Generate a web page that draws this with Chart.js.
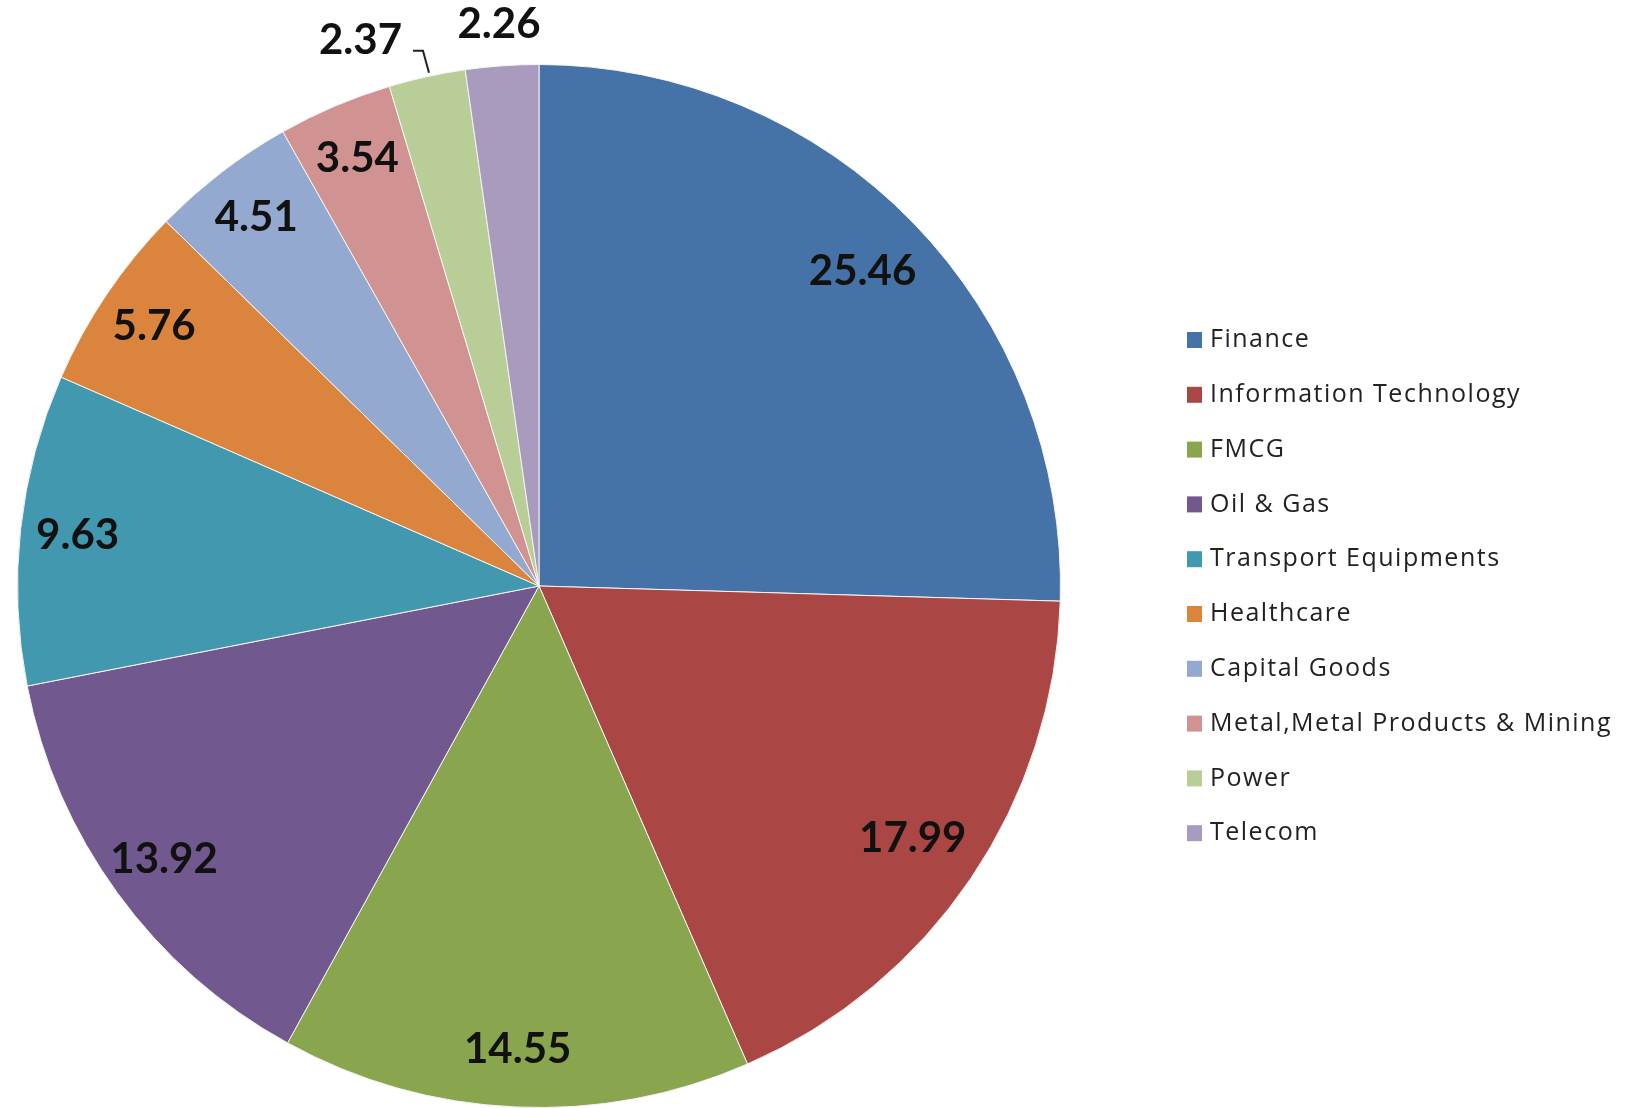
<!DOCTYPE html>
<html lang="en">

<head>
    <meta charset="UTF-8">
    <title>Sector allocation</title>
    <script src="https://cdn.jsdelivr.net/npm/chart.js"></script>
    <style>
        html, body { margin: 0; padding: 0; background: #fff; }
        #box { width: 1643px; height: 1108px; }
    </style>
</head>

<body>
    <div id="box">
        <canvas id="setorChart"></canvas>
    </div>
</body>

</html>
<script>
    // dados do gráfico
    const setores = ['Finance', 'Information Technology', 'FMCG', 'Oil & Gas', 'Transport Equipments',
        'Healthcare', 'Capital Goods', 'Metal,Metal Products & Mining', 'Power', 'Telecom'];
    const pesos = [25.46, 17.99, 14.55, 13.92, 9.63, 5.76, 4.51, 3.54, 2.37, 2.26];
    const cores = ['#4572A7', '#AA4643', '#89A54E', '#71588F', '#4198AF',
        '#DB843D', '#93A9CF', '#D19392', '#B9CD96', '#A99BBD'];

    const fonteTexto = 'Lato, "Open Sans", sans-serif';

    // rótulos dos valores em cima das fatias
    const rotulosPlugin = {
        id: 'rotulos',
        afterDatasetsDraw(chart) {
            const ctx = chart.ctx;
            const arcos = chart.getDatasetMeta(0).data;
            ctx.save();
            ctx.font = 'bold 42px ' + fonteTexto;
            ctx.fillStyle = '#111';
            ctx.textAlign = 'center';
            ctx.textBaseline = 'middle';
            arcos.forEach(function (arco, i) {
                const p = arco.getProps(['x', 'y', 'startAngle', 'endAngle', 'outerRadius'], true);
                let meio = (p.startAngle + p.endAngle) / 2;
                // fatias grandes ficam um pouco mais pra dentro
                let r = p.outerRadius * (pesos[i] > 15 ? 0.865 : 0.89);
                if (pesos[i] < 3) {
                    // fatias pequenas: rótulo fora
                    r = p.outerRadius * 1.08;
                    if (i == 8) {
                        meio = meio - 0.1;
                        r = p.outerRadius * 1.1;
                        // linha de chamada
                        const m2 = (p.startAngle + p.endAngle) / 2;
                        const ax = p.x + Math.cos(m2) * p.outerRadius;
                        const ay = p.y + Math.sin(m2) * p.outerRadius;
                        ctx.strokeStyle = '#222';
                        ctx.lineWidth = 2;
                        ctx.beginPath();
                        ctx.moveTo(ax + 2, ay - 4);
                        ctx.lineTo(ax - 4, ay - 26);
                        ctx.lineTo(ax - 14, ay - 26);
                        ctx.stroke();
                    }
                }
                const x = p.x + Math.cos(meio) * r;
                const y = p.y + Math.sin(meio) * r;
                ctx.fillText(pesos[i].toFixed(2), x, y);
            });
            ctx.restore();
        }
    };

    // legenda desenhada à direita
    const legendaPlugin = {
        id: 'legendaDireita',
        afterDraw(chart) {
            const ctx = chart.ctx;
            const dados = chart.data;
            ctx.save();
            ctx.font = '25px "Open Sans", sans-serif';
            ctx.letterSpacing = '1.5px';
            ctx.textBaseline = 'middle';
            ctx.textAlign = 'left';
            for (let i = 0; i < dados.labels.length; i++) {
                const y = 340 + i * 54.8;
                ctx.fillStyle = dados.datasets[0].backgroundColor[i];
                ctx.fillRect(1187, y - 8, 15, 16);
                ctx.fillStyle = '#222';
                ctx.fillText(dados.labels[i], 1210, y);
            }
            ctx.restore();
        }
    };

    const config = {
        type: 'pie',
        data: {
            labels: setores,
            datasets: [{
                data: pesos,
                backgroundColor: cores,
                borderColor: '#f4f4f4',
                borderWidth: 1
            }]
        },
        options: {
            responsive: true,
            maintainAspectRatio: false,
            animation: false,
            layout: {
                padding: { top: 64, bottom: 0, left: 17, right: 582 }
            },
            plugins: {
                legend: { display: false },
                tooltip: { enabled: false }
            }
        },
        plugins: [rotulosPlugin, legendaPlugin]
    };

    const myChart = new Chart(document.querySelector('#setorChart'), config);
</script>
